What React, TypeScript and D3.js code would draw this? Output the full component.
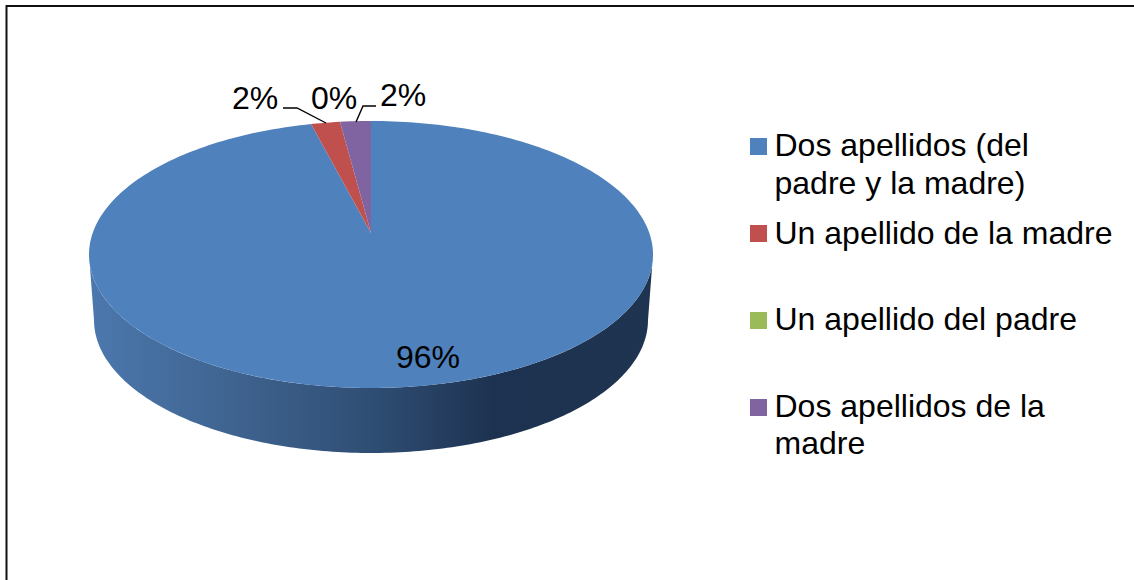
import React from "react";
import * as d3 from "d3";

const categories = ["Dos apellidos (del padre y la madre)", "Un apellido de la madre", "Un apellido del padre", "Dos apellidos de la madre"];
const values = [96.3, 1.65, 0, 1.75];
const colors = ["#4f81bd", "#c0504d", "#9bbb59", "#8064a2"];
const legendLines = [["Dos apellidos (del", "padre y la madre)"], ["Un apellido de la madre"], ["Un apellido del padre"], ["Dos apellidos de la", "madre"]];
const legendBaselines = [[156, 194], [244], [330], [417, 454]];
const legendSwatchTop = [138, 225, 312, 399];
const dataLabels = ["96%", "2%", "0%", "2%"];
const dataLabelPos = [[396, 368], [232, 109], [311, 109], [380, 106]];
const leaders = [
  [[283, 108], [297, 108], [326, 123]],
  [[376, 106], [363, 106], [356, 122]],
];

const cx = 371, topCy = 254.5, rx = 282, ry = 133.5;
const apex: [number, number] = [371, 233];
const botCy = 320, botRx = 277, botRy = 133;

const slices = d3.pie<number>().sort(null)(values);
const line = d3.line();
const onTop = (a: number): [number, number] => [cx + rx * Math.sin(a), topCy - ry * Math.cos(a)];

function wedge(a0: number, a1: number) {
  const n = Math.max(2, Math.ceil((a1 - a0) / 0.02));
  const pts = d3.range(n + 1).map((i) => onTop(a0 + ((a1 - a0) * i) / n));
  return line([apex, ...pts, apex]) + "Z";
}

function sidePath() {
  const top = d3.range(0, 181).map((d) => {
    const t = (d * Math.PI) / 180;
    return [cx + rx * Math.cos(t), topCy + ry * Math.sin(t)] as [number, number];
  });
  const bot = d3.range(180, -1, -1).map((d) => {
    const t = (d * Math.PI) / 180;
    return [cx + botRx * Math.cos(t), botCy + botRy * Math.sin(t)] as [number, number];
  });
  return line([...top, ...bot]) + "Z";
}

const font = "'Liberation Sans', Arial, sans-serif";

export default function App() {
  return (
    <svg width={1134} height={580} style={{ position: "absolute", left: 0, top: 0, background: "#fff" }} fontFamily={font}>
      <defs>
        <linearGradient id="side" gradientUnits="userSpaceOnUse" x1={89} x2={653} y1={0} y2={0}>
          <stop offset="0" stopColor="#4c78ae" />
          <stop offset="0.25" stopColor="#3f6490" />
          <stop offset="0.5" stopColor="#2f4e74" />
          <stop offset="0.72" stopColor="#1d3250" />
          <stop offset="1" stopColor="#1f3450" />
        </linearGradient>
      </defs>
      <path d="M6.5,580V6H1134" fill="none" stroke="#111" strokeWidth={2} />
      <path d={sidePath()} fill="url(#side)" />
      {slices.map((s, i) =>
        s.endAngle > s.startAngle ? (
          <path key={categories[i]} d={wedge(s.startAngle, s.endAngle)} fill={colors[i]} />
        ) : null
      )}
      {leaders.map((l, i) => (
        <path key={i} d={line(l as [number, number][]) ?? ""} fill="none" stroke="#000" strokeWidth={1.4} />
      ))}
      {dataLabels.map((t, i) => (
        <text key={i} x={dataLabelPos[i][0]} y={dataLabelPos[i][1]} fontSize={32} fill="#000">{t}</text>
      ))}
      {categories.map((c, i) => (
        <g key={c}>
          <rect x={750} y={legendSwatchTop[i]} width={17} height={17} fill={colors[i]} />
          {legendLines[i].map((t, j) => (
            <text key={j} x={774.5} y={legendBaselines[i][j]} fontSize={32} fill="#000">{t}</text>
          ))}
        </g>
      ))}
    </svg>
  );
}
